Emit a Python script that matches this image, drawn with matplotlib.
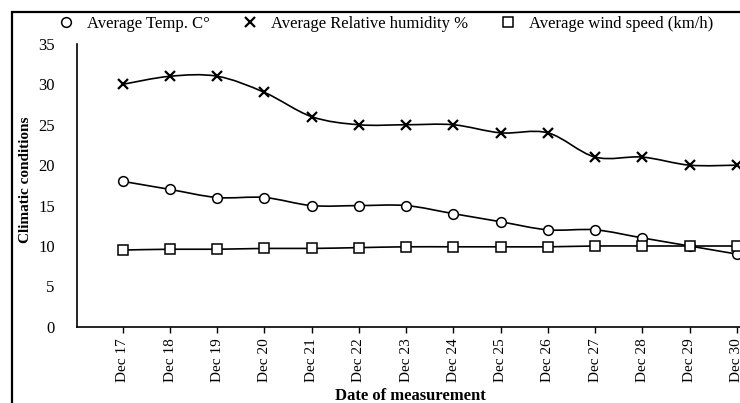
import numpy as np
import matplotlib
matplotlib.use("Agg")
import matplotlib.pyplot as plt
from matplotlib.path import Path
from matplotlib.patches import PathPatch, Rectangle

plt.rcParams['font.family'] = ['Liberation Serif', 'DejaVu Serif']

dates = ["Dec 17", "Dec 18", "Dec 19", "Dec 20", "Dec 21", "Dec 22", "Dec 23",
         "Dec 24", "Dec 25", "Dec 26", "Dec 27", "Dec 28", "Dec 29", "Dec 30"]
temp = [18, 17, 16, 16, 15, 15, 15, 14, 13, 12, 12, 11, 10, 9]
humidity = [30, 31, 31, 29, 26, 25, 25, 25, 24, 24, 21, 21, 20, 20]
wind = [9.5, 9.6, 9.6, 9.7, 9.7, 9.8, 9.9, 9.9, 9.9, 9.9, 10, 10, 10, 10]


def smooth_path(x, y):
    # cubic bezier through the points (catmull-rom style control points)
    pts = np.column_stack([x, y]).astype(float)
    verts = [pts[0]]
    codes = [Path.MOVETO]
    n = len(pts)
    for i in range(n - 1):
        p0 = pts[i - 1] if i > 0 else pts[i]
        p1 = pts[i]
        p2 = pts[i + 1]
        p3 = pts[i + 2] if i + 2 < n else pts[i + 1]
        c1 = p1 + (p2 - p0) / 6.0
        c2 = p2 - (p3 - p1) / 6.0
        verts += [c1, c2, p2]
        codes += [Path.CURVE4] * 3
    return Path(verts, codes)


fig = plt.figure(figsize=(7.4, 4.03), dpi=100)
ax = fig.add_axes([0.104, 0.189, 0.93, 0.702])

x = np.arange(len(dates))
series = [(temp, 'o', 7, "Average Temp. C°"),
          (humidity, 'x', 7, "Average Relative humidity %"),
          (wind, 's', 6.5, "Average wind speed (km/h)")]
for vals, mk, ms, lab in series:
    ax.add_patch(PathPatch(smooth_path(x, vals), fill=False, edgecolor='black',
                           lw=1.2, zorder=2))
    ax.plot(x, vals, linestyle='none', marker=mk, ms=ms, mfc='white',
            mec='black', mew=1.6 if mk == 'x' else 1.1, zorder=3)
    ax.plot([], [], linestyle='none', marker=mk, ms=ms, mfc='white',
            mec='black', mew=1.6 if mk == 'x' else 1.1, label=lab)

ax.set_xlim(-0.97, 13.6)
ax.set_ylim(0, 35)
ax.set_yticks(range(0, 36, 5))
ax.set_xticks(x)
ax.set_xticklabels(dates, rotation=90, fontsize=11)
ax.tick_params(axis='y', length=0, pad=16, labelsize=12)
ax.tick_params(axis='x', length=4, width=1, direction='out', pad=4)
for s in ['top', 'right']:
    ax.spines[s].set_visible(False)
ax.spines['left'].set_linewidth(1.2)
ax.spines['bottom'].set_linewidth(1.2)

ax.set_ylabel("Climatic conditions", fontsize=11, fontweight='bold')
ax.yaxis.set_label_coords(-0.066, 0.52)
ax.set_xlabel("Date of measurement", fontsize=12, fontweight='bold')
ax.xaxis.set_label_coords(0.484, -0.215)

fig.legend(loc='upper left', bbox_to_anchor=(0.069, 0.978), ncol=3, frameon=False,
           fontsize=12, handlelength=1.0, handletextpad=0.75, columnspacing=1.9,
           borderaxespad=0)

fig.patches.append(Rectangle((12 / 740, -0.1), 1.2, (403 - 12) / 403 + 0.1,
                             transform=fig.transFigure, fill=False,
                             edgecolor='black', lw=1.6))

fig.savefig("out.png", dpi=100)
